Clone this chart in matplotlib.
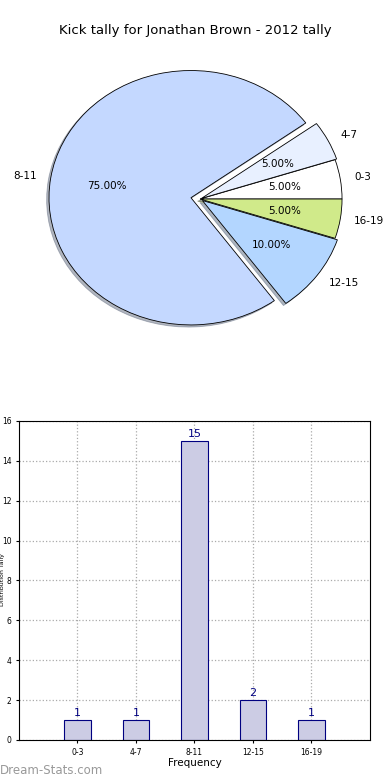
import matplotlib
matplotlib.use("Agg")
import matplotlib.pyplot as plt

# Data
categories = ["0-3", "4-7", "8-11", "12-15", "16-19"]
tally = [1, 1, 15, 2, 1]
slice_colors = ["#ffffff", "#e8f0ff", "#c4d8ff", "#b3d6ff", "#d0ea8a"]
explode = [0, 0.012, 0.065, 0.02, 0]

fig = plt.figure(figsize=(3.9, 7.8), dpi=100)

# Pie chart
ax1 = fig.add_axes([0.058, 0.541, 0.91, 0.4077])
wedges, texts, autotexts = ax1.pie(
    tally, labels=categories, colors=slice_colors, explode=explode,
    autopct="%1.2f%%", shadow={"ox": -0.012, "oy": -0.012, "shade": 0.5},
    startangle=0, labeldistance=1.1,
    wedgeprops={"edgecolor": "black", "linewidth": 0.6},
    textprops={"fontsize": 7.5},
)
ax1.set_aspect("auto")
ax1.set_xlim(-1.25, 1.25)
ax1.set_ylim(-1.25, 1.25)
fig.text(0.5, 0.961, "Kick tally for Jonathan Brown - 2012 tally",
         ha="center", va="center", fontsize=9.5)

# Bar chart
ax2 = fig.add_axes([0.0487, 0.0513, 0.9, 0.409])
x = list(range(len(categories)))
bars = ax2.bar(x, tally, width=0.45, color="#cccce4", edgecolor="#000080",
               linewidth=0.8, zorder=2)
for xi, v in zip(x, tally):
    ax2.text(xi, v + 0.1, str(v), ha="center", va="bottom",
             fontsize=8, color="#000080")
ax2.set_xlim(-1, 5)
ax2.set_ylim(0, 16)
ax2.set_xticks(x)
ax2.set_xticklabels(categories)
ax2.set_yticks(range(0, 17, 2))
ax2.tick_params(labelsize=5.5, length=2)
ax2.grid(True, linestyle=":", color="#aaaaaa", linewidth=0.9, zorder=0)
ax2.set_axisbelow(True)
ax2.set_xlabel("Frequency", fontsize=7.5, labelpad=1)
fig.text(0.0, 1 - 580 / 780, "Distribution Tally", rotation=90, fontsize=4.5,
         ha="left", va="center")

fig.text(0.0, 0.012, "Dream-Stats.com", fontsize=8.5, color="#999999",
         ha="left", va="center")

fig.savefig("out.png", dpi=100)
